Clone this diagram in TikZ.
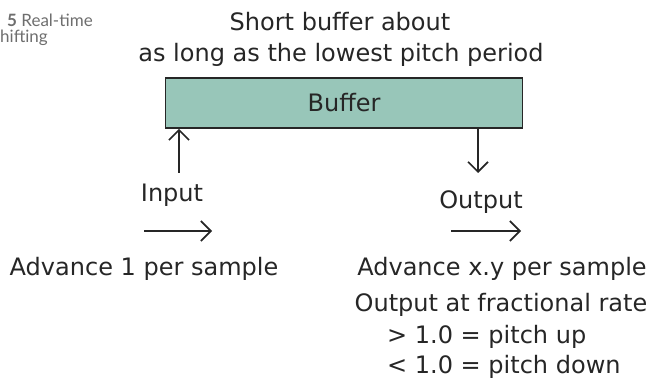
\documentclass[tikz,border=0pt]{standalone}
\usepackage{fontspec}
\setmainfont{DejaVu Sans}
\newfontfamily\capfont{Lato}
\usetikzlibrary{arrows.meta}
\usetikzlibrary{calc}
\definecolor{bufgreen}{RGB}{152,198,185}
\definecolor{capgray}{RGB}{110,110,110}
\tikzset{
  txt/.style={font=\fontsize{24}{28}\selectfont, inner sep=0pt, text=black!85},
  arr/.style={-{Straight Barb[length=10pt,width=20pt]}, line width=1.6pt, draw=black!85}
}
\begin{document}
\begin{tikzpicture}[x=1pt,y=-1pt]
\useasboundingbox (0,0) rectangle (653,382);
% caption, cut at the left edge
\node[anchor=west, inner sep=0pt, font=\capfont\fontsize{17}{19}\selectfont, text=capgray] (capa) at (7,20) {\textbf{5} Real-time};
\node[anchor=west, inner sep=0pt, font=\capfont\fontsize{17}{19}\selectfont, text=capgray] (capb) at (0,38) {hifting};
% heading
\node[txt] (head1) at (340,22) {Short buffer about};
\node[txt] (head2) at (341,55) {as long as the lowest pitch period};
% draw buffer
\node[txt, draw=black!85, line width=1.8pt, fill=bufgreen, minimum width=357pt, minimum height=50pt] (buf) at (344,103) {Buffer};
% draw input / output pointers
\coordinate (inS) at (179,173);
\coordinate (outE) at (478,173);
\draw[arr] (inS) -- (inS |- buf.south);
\draw[arr] (outE |- buf.south) -- (outE);
% labels under pointers
\node[txt] (inp) at (172,195) {Input};
\node[txt] (outp) at (481,202) {Output};
% draw advance arrows
\coordinate (inA) at (144,231);
\coordinate (inB) at (212,231);
\coordinate (outA) at (451,231);
\coordinate (outB) at (521,231);
\draw[arr] (inA) -- (inB);
\draw[arr] (outA) -- (outB);
% text below
\node[txt] (advin) at (144,269) {Advance 1 per sample};
\node[txt] (advout) at (502,269) {Advance x.y per sample};
\node[txt] (frac) at (501,305) {Output at fractional rate};
\node[txt, anchor=west] (up) at (387,337) {> 1.0 = pitch up};
\node[txt, anchor=west] (down) at (387,367) {< 1.0 = pitch down};
\end{tikzpicture}
\end{document}
